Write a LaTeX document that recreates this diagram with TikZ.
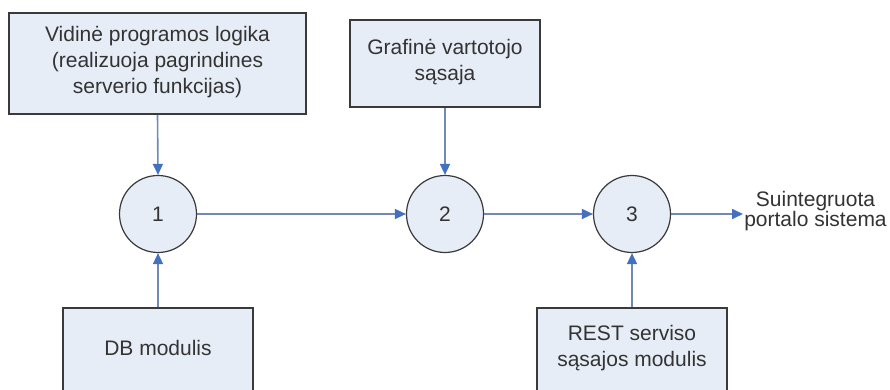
\documentclass[tikz,border=0pt]{standalone}
\usepackage{fontspec}
\setmainfont{Liberation Sans}
\usetikzlibrary{arrows.meta}
\definecolor{boxfill}{HTML}{E7EDF7}
\definecolor{boxline}{HTML}{3A3A3A}
\definecolor{arrline}{HTML}{7189B4}
\definecolor{arrhead}{HTML}{4470C0}
\tikzset{
  blk/.style={draw=boxline, line width=1.6pt, fill=boxfill, inner sep=0pt},
  proc/.style={circle, draw=boxline, line width=1.2pt, fill=boxfill, minimum size=77pt, inner sep=0pt},
  txt/.style={inner sep=0pt, align=center, text=black!80, font=\fontsize{21}{26}\selectfont},
  flow/.style={draw=arrline, line width=1.6pt, -{Triangle[length=11pt,width=10pt,color=arrhead]}}
}
\begin{document}
\begin{tikzpicture}[x=1pt,y=-1pt]
\useasboundingbox (0,0) rectangle (890,390);
\clip (0,0) rectangle (890,390);
\fill[white] (0,0) rectangle (890,390);
% top boxes
\node[blk, minimum width=297pt, minimum height=101pt] (b1) at (157.5,63.5) {};
\node[txt] (t1) at (157.5,62) {Vidinė programos logika\\(realizuoja pagrindines\\serverio funkcijas)};
\node[blk, minimum width=190pt, minimum height=87pt] (b2) at (445,63.5) {};
\node[txt] (t2) at (445,62.5) {Grafinė vartotojo\\sąsaja};
% bottom boxes
\node[blk, minimum width=190pt, minimum height=100pt] (b3) at (158,358) {};
\node[txt] (t3) at (158,348) {DB modulis};
\node[blk, minimum width=190pt, minimum height=100pt] (b4) at (632,358) {};
\node[txt] (t4) at (632,348) {REST serviso\\sąsajos modulis};
% circles
\node[proc, font=\fontsize{21}{26}\selectfont, text=black!80] (c1) at (158,214) {1};
\node[proc, font=\fontsize{21}{26}\selectfont, text=black!80] (c2) at (445,214) {2};
\node[proc, font=\fontsize{21}{26}\selectfont, text=black!80] (c3) at (632,214) {3};
% output
\node[txt, font=\fontsize{21}{19}\selectfont] (out) at (815.5,211) {Suintegruota\\portalo sistema};
\coordinate (outend) at (743,214);
% connectors
\draw[flow] (b1.south) -- (c1.north);
\draw[flow] (b3.north) -- (c1.south);
\draw[flow] (b2.south) -- (c2.north);
\draw[flow] (b4.north) -- (c3.south);
\draw[flow] (c1.east) -- (c2.west);
\draw[flow] (c2.east) -- (c3.west);
\draw[flow] (c3.east) -- (outend);
\end{tikzpicture}
\end{document}
